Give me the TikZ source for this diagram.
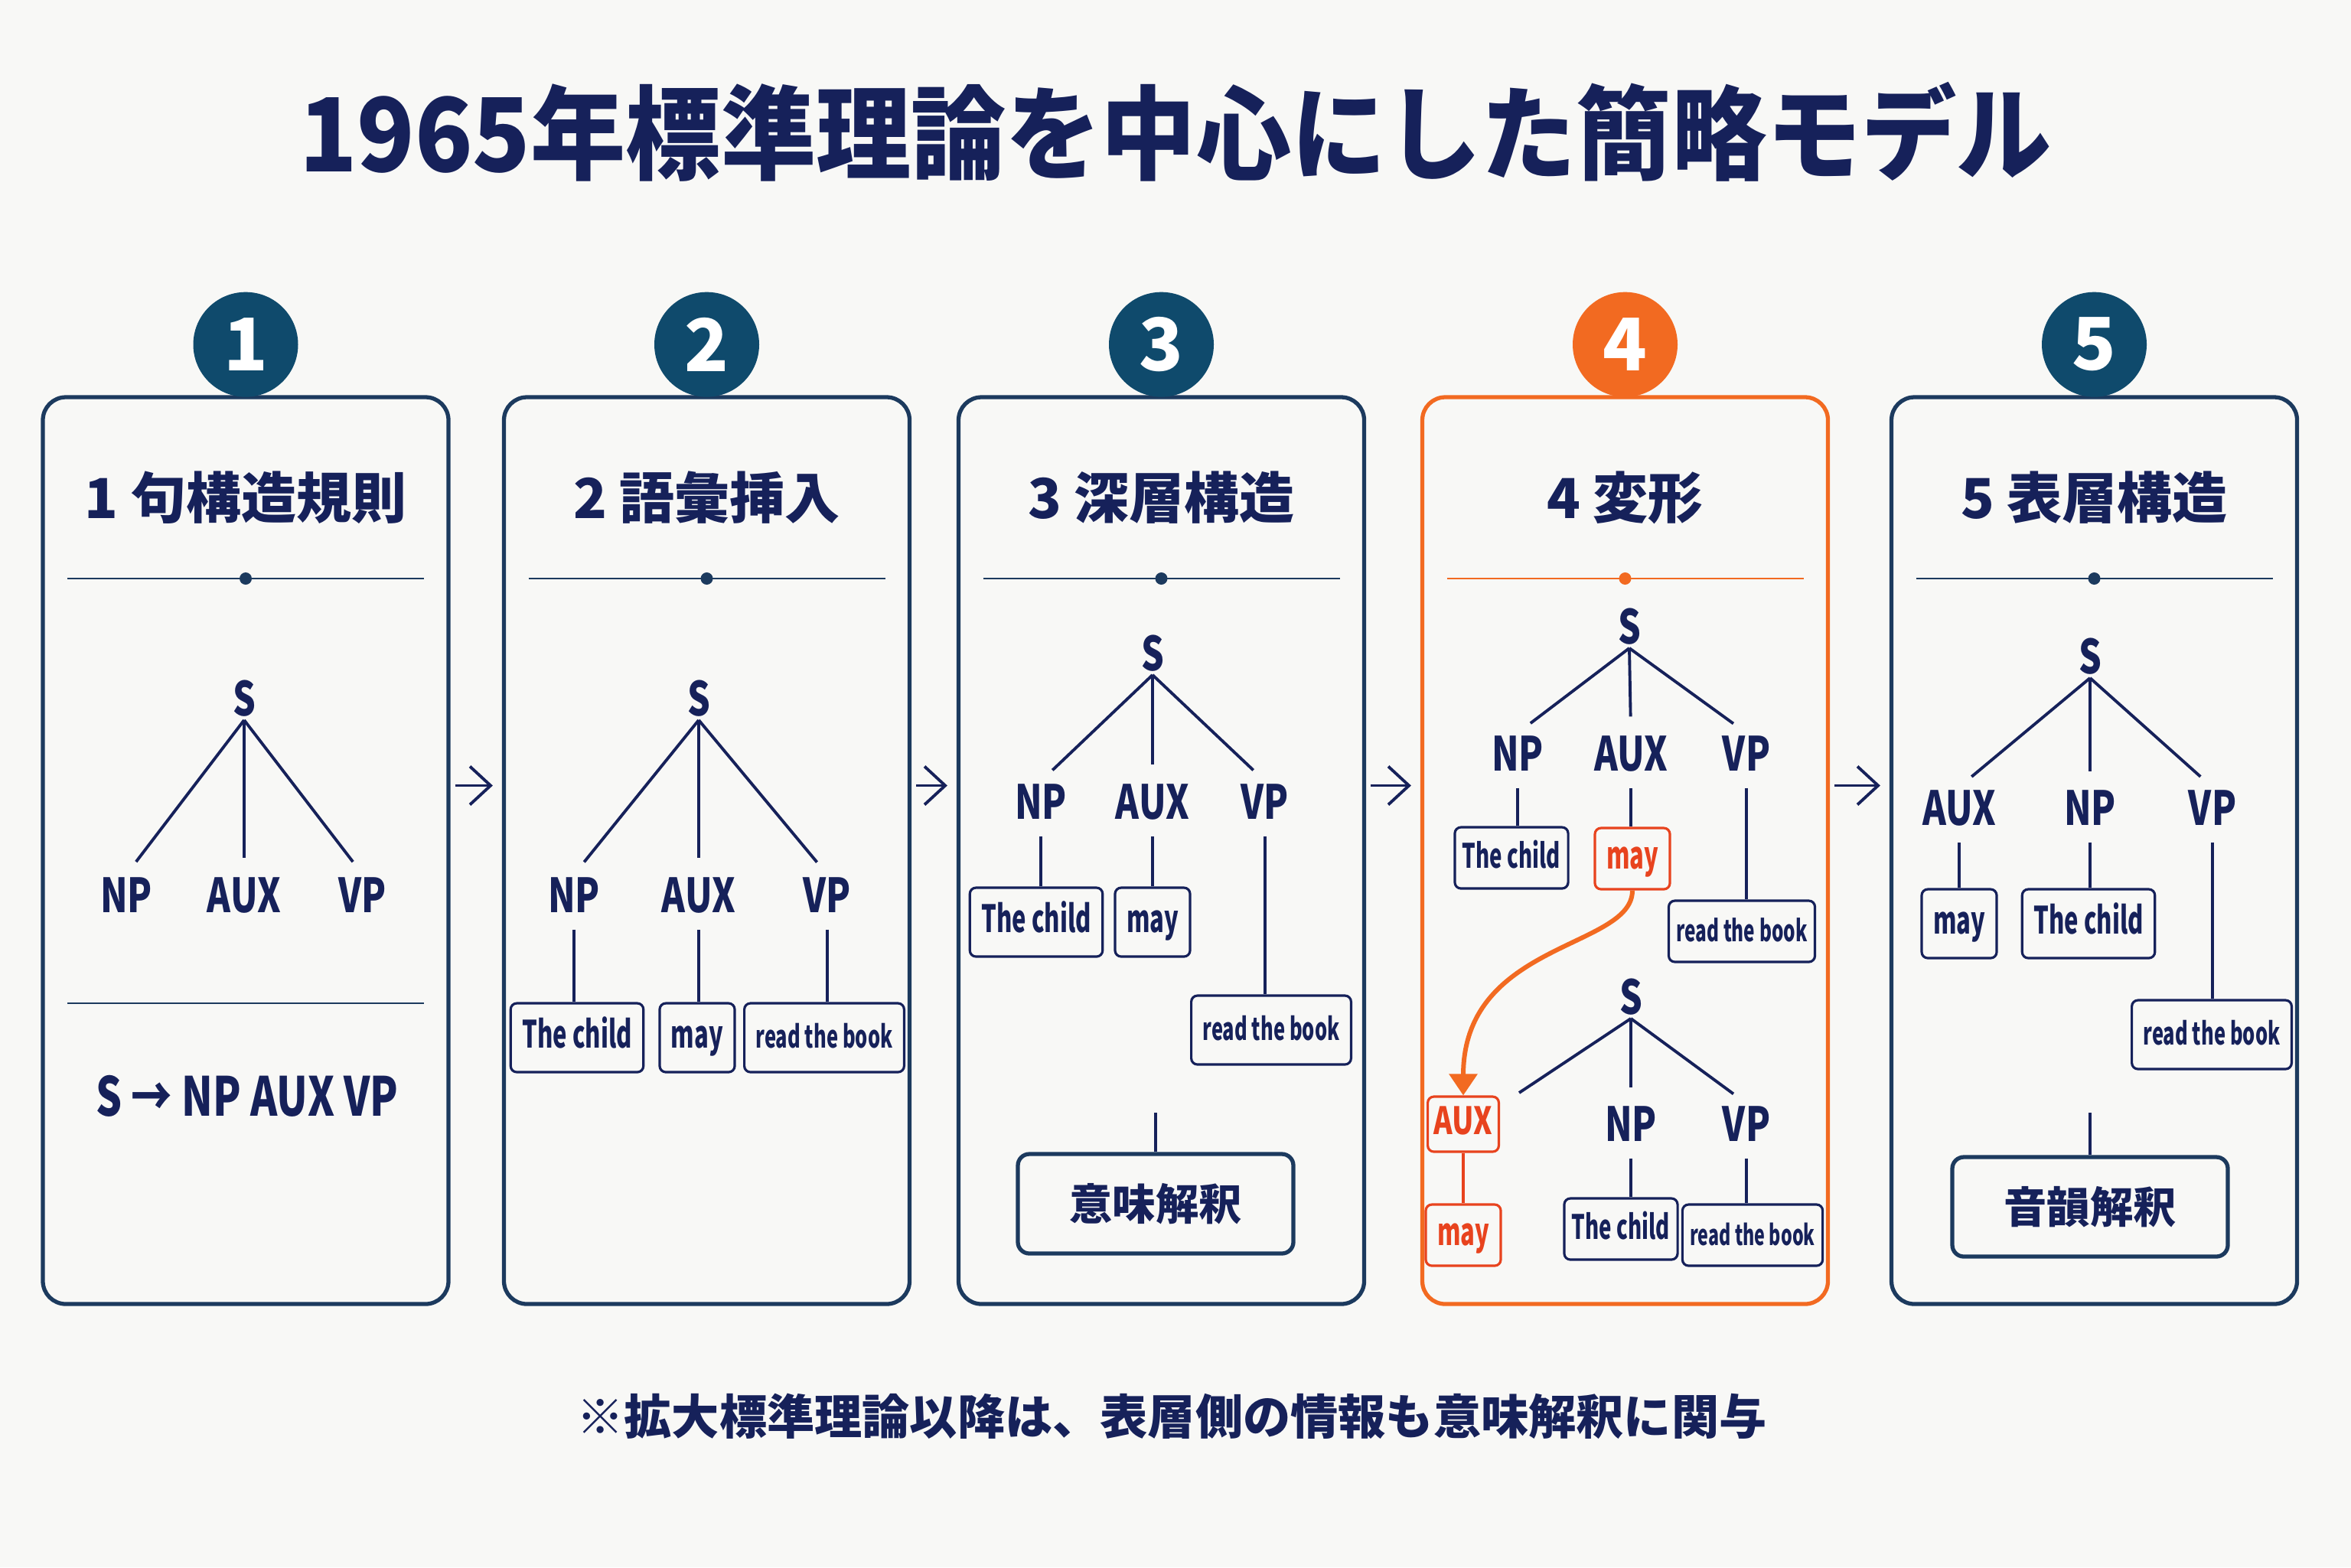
\documentclass[tikz,border=0pt]{standalone}
\usepackage{fontspec}
\setmainfont{Noto Sans CJK JP}
\newfontfamily\condfont{Noto Sans CJK JP}[FakeStretch=0.76]
\newfontfamily\wordfont{Noto Sans CJK JP}[FakeStretch=0.63]
\newfontfamily\titlefont{Noto Sans CJK JP}[FakeStretch=0.93]
\usetikzlibrary{positioning,arrows.meta}
\definecolor{ink}{HTML}{16215A}
\definecolor{edge}{HTML}{1C3A5E}
\definecolor{teal0}{HTML}{0F4A6C}
\definecolor{hot}{HTML}{F26A21}
\definecolor{hotred}{HTML}{E8431E}
\definecolor{bg}{HTML}{F8F8F6}

\begin{document}
\begin{tikzpicture}[x=1cm, y=-1cm,
  panel/.style={draw=edge, line width=1.5pt, rounded corners=0.3cm,
    minimum width=5.3cm, minimum height=11.85cm},
  badge/.style={circle, fill=teal0, text=white, minimum size=1.37cm,
    inner sep=0pt, font=\bfseries\fontsize{27}{27}\selectfont},
  heading/.style={text=ink, font=\bfseries\fontsize{20.5}{22}\selectfont},
  sepline/.style={draw=edge, line width=0.8pt},
  lbl/.style={text=ink, inner sep=1pt, font=\condfont\bfseries\fontsize{17.5}{18}\selectfont},
  word/.style={draw=ink, line width=0.9pt, rounded corners=0.08cm, text=ink,
    minimum height=0.9cm, inner xsep=0.15cm, text height=1.9ex, text depth=0.45ex,
    font=\wordfont\bfseries\fontsize{14}{15}\selectfont},
  book/.style={word, font=\wordfont\bfseries\fontsize{11.5}{13}\selectfont},
  small/.style={minimum height=0.8cm, inner xsep=0.1cm},
  moved/.style={draw=hotred, text=hotred},
  interp/.style={draw=edge, line width=1.5pt, rounded corners=0.15cm, text=ink,
    minimum width=3.6cm, minimum height=1.3cm, font=\bfseries\fontsize{16}{17}\selectfont},
  tline/.style={draw=ink, line width=1.1pt},
  branch/.style={tline, shorten >=6pt},
  stem/.style={tline, shorten <=5pt},
  flow/.style={draw=ink, line width=1.1pt, -{Straight Barb[length=0.27cm, width=0.5cm]},
    shorten <=0.06cm, shorten >=0.12cm},
  movearrow/.style={draw=hot, line width=1.7pt, -{Triangle[length=0.28cm, width=0.36cm]}}]
% ---- background and title ----
\fill[bg] (0,0) rectangle (30.72,20.48);
\useasboundingbox (0,0) rectangle (30.72,20.48);
\node[text=ink, font=\titlefont\bfseries\fontsize{38}{40}\selectfont] (title) at (15.36,1.72)
  {1965年標準理論を中心にした簡略モデル};
% ---- five stage panels + numbered badges ----
\node[panel] (p1) at (3.21,11.115) {};
\node[panel] (p2) at (9.235,11.115) {};
\node[panel] (p3) at (15.175,11.115) {};
\node[panel, draw=hot] (p4) at (21.235,11.115) {};
\node[panel] (p5) at (27.365,11.115) {};
\node[badge, above=-0.03cm of p1] (b1) {1};
\node[badge, above=-0.03cm of p2] (b2) {2};
\node[badge, above=-0.03cm of p3] (b3) {3};
\node[badge, fill=hot, above=-0.03cm of p4] (b4) {4};
\node[badge, above=-0.03cm of p5] (b5) {5};
% arrows from stage to stage
\draw[flow] ([yshift=0.85cm]p1.east) -- ([yshift=0.85cm]p2.west);
\draw[flow] ([yshift=0.85cm]p2.east) -- ([yshift=0.85cm]p3.west);
\draw[flow] ([yshift=0.85cm]p3.east) -- ([yshift=0.85cm]p4.west);
\draw[flow] ([yshift=0.85cm]p4.east) -- ([yshift=0.85cm]p5.west);
% ---- panel headings with dotted rule ----
\node[heading] (h1) at (3.21,6.50) {1 句構造規則};
\node[heading] (h2) at (9.235,6.50) {2 語彙挿入};
\node[heading] (h3) at (15.175,6.50) {3 深層構造};
\node[heading] (h4) at (21.235,6.50) {4 変形};
\node[heading] (h5) at (27.365,6.50) {5 表層構造};
\draw[sepline] (0.88,7.56) -- (5.54,7.56);    \fill[edge] (3.21,7.56) circle (0.08);
\draw[sepline] (6.905,7.56) -- (11.565,7.56); \fill[edge] (9.235,7.56) circle (0.08);
\draw[sepline] (12.845,7.56) -- (17.505,7.56); \fill[edge] (15.175,7.56) circle (0.08);
\draw[sepline, draw=hot] (18.905,7.56) -- (23.565,7.56); \fill[hot] (21.235,7.56) circle (0.08);
\draw[sepline] (25.035,7.56) -- (29.695,7.56); \fill[edge] (27.365,7.56) circle (0.08);
% ---- 1: phrase structure rule ----
\node[lbl] (s1) at (3.19,9.13) {S};
\node[lbl] (np1) at (1.65,11.70) {NP};
\node[lbl] (aux1) at (3.19,11.70) {AUX};
\node[lbl] (vp1) at (4.74,11.70) {VP};
\draw[branch] (s1.south) -- (np1.north);
\draw[branch] (s1.south) -- (aux1.north);
\draw[branch] (s1.south) -- (vp1.north);
\draw[sepline] (0.88,13.11) -- (5.54,13.11);
\node[lbl, font=\condfont\bfseries\fontsize{20}{22}\selectfont] (rule1) at (3.23,14.32) {S → NP AUX VP};
% ---- 2: lexical insertion ----
\node[lbl] (s2) at (9.13,9.13) {S};
\node[lbl] (np2) at (7.50,11.70) {NP};
\node[lbl] (aux2) at (9.13,11.70) {AUX};
\node[lbl] (vp2) at (10.81,11.70) {VP};
\draw[branch] (s2.south) -- (np2.north);
\draw[branch] (s2.south) -- (aux2.north);
\draw[branch] (s2.south) -- (vp2.north);
\node[word] (child2) at (7.54,13.56) {The child};
\node[word] (may2) at (9.11,13.56) {may};
\node[book] (book2) at (10.77,13.56) {read the book};
\draw[stem] (np2.south) -- (np2.south |- child2.north);
\draw[stem] (aux2.south) -- (aux2.south |- may2.north);
\draw[stem] (vp2.south) -- (vp2.south |- book2.north);
% ---- 3: deep structure -> semantic interpretation ----
\node[lbl] (s3) at (15.06,8.54) {S};
\node[lbl] (np3) at (13.60,10.48) {NP};
\node[lbl] (aux3) at (15.06,10.48) {AUX};
\node[lbl] (vp3) at (16.53,10.48) {VP};
\draw[branch] (s3.south) -- (np3.north);
\draw[branch] (s3.south) -- (aux3.north);
\draw[branch] (s3.south) -- (vp3.north);
\node[word] (child3) at (13.54,12.05) {The child};
\node[word] (may3) at (15.06,12.05) {may};
\node[book] (book3) at (16.61,13.46) {read the book};
\draw[stem] (np3.south) -- (np3.south |- child3.north);
\draw[stem] (aux3.south) -- (aux3.south |- may3.north);
\draw[stem] (vp3.south) -- (vp3.south |- book3.north);
\coordinate (c3) at (15.10,14.54);
\node[interp] (sem) at (15.10,15.73) {意味解釈};
\draw[tline] (c3) -- (sem.north);
% ---- 4: transformation (AUX fronting) ----
\node[lbl] (s4) at (21.29,8.19) {S};
\node[lbl] (np4) at (19.83,9.85) {NP};
\node[lbl] (aux4) at (21.31,9.85) {AUX};
\node[lbl] (vp4) at (22.82,9.85) {VP};
\draw[branch] (s4.south) -- (np4.north);
\draw[branch] (s4.south) -- (aux4.north);
\draw[branch] (s4.south) -- (vp4.north);
\node[word, small, font=\wordfont\bfseries\fontsize{12.5}{14}\selectfont] (child4) at (19.75,11.21) {The child};
\node[word, moved, minimum height=0.8cm] (may4) at (21.33,11.22) {may};
\node[book, small, font=\wordfont\bfseries\fontsize{11}{12}\selectfont] (book4) at (22.76,12.17) {read the book};
\draw[stem] (np4.south) -- (np4.south |- child4.north);
\draw[stem] (aux4.south) -- (aux4.south |- may4.north);
\draw[stem] (vp4.south) -- (vp4.south |- book4.north);
% result tree
\node[lbl] (s4b) at (21.31,13.03) {S};
\coordinate (gap4) at (19.85,14.28);
\node[lbl] (np4b) at (21.31,14.69) {NP};
\node[lbl] (vp4b) at (22.82,14.69) {VP};
\draw[tline] (s4b.south) -- (gap4);
\draw[branch] (s4b.south) -- (np4b.north);
\draw[branch] (s4b.south) -- (vp4b.north);
\node[word, moved, minimum height=0.72cm, inner xsep=0.08cm,
  font=\condfont\bfseries\fontsize{14}{15}\selectfont] (auxm) at (19.12,14.69) {AUX};
\node[word, moved, minimum height=0.8cm] (maym) at (19.12,16.14) {may};
\node[word, small, font=\wordfont\bfseries\fontsize{12.5}{14}\selectfont] (child4b) at (21.18,16.06) {The child};
\node[book, small, font=\wordfont\bfseries\fontsize{10.5}{12}\selectfont] (book4b) at (22.90,16.14) {read the book};
\draw[tline, draw=hotred] (auxm.south) -- (maym.north);
\draw[stem] (np4b.south) -- (np4b.south |- child4b.north);
\draw[stem] (vp4b.south) -- (vp4b.south |- book4b.north);
\draw[movearrow] (may4.south) .. controls (21.33,12.4) and (19.12,12.3) .. (auxm.north);
% ---- 5: surface structure -> phonological interpretation ----
\node[lbl] (s5) at (27.31,8.58) {S};
\node[lbl] (aux5) at (25.60,10.56) {AUX};
\node[lbl] (np5) at (27.31,10.56) {NP};
\node[lbl] (vp5) at (28.91,10.56) {VP};
\draw[branch] (s5.south) -- (aux5.north);
\draw[branch] (s5.south) -- (np5.north);
\draw[branch] (s5.south) -- (vp5.north);
\node[word] (may5) at (25.60,12.07) {may};
\node[word] (child5) at (27.29,12.07) {The child};
\node[book] (book5) at (28.90,13.52) {read the book};
\draw[stem] (aux5.south) -- (aux5.south |- may5.north);
\draw[stem] (np5.south) -- (np5.south |- child5.north);
\draw[stem] (vp5.south) -- (vp5.south |- book5.north);
\coordinate (c5) at (27.31,14.54);
\node[interp] (phon) at (27.31,15.77) {音韻解釈};
\draw[tline] (c5) -- (phon.north);
% ---- footnote ----
\node[text=ink, font=\bfseries\fontsize{17.7}{19}\selectfont] (note) at (15.31,18.51)
  {※拡大標準理論以降は、表層側の情報も意味解釈に関与};
\end{tikzpicture}
\end{document}
